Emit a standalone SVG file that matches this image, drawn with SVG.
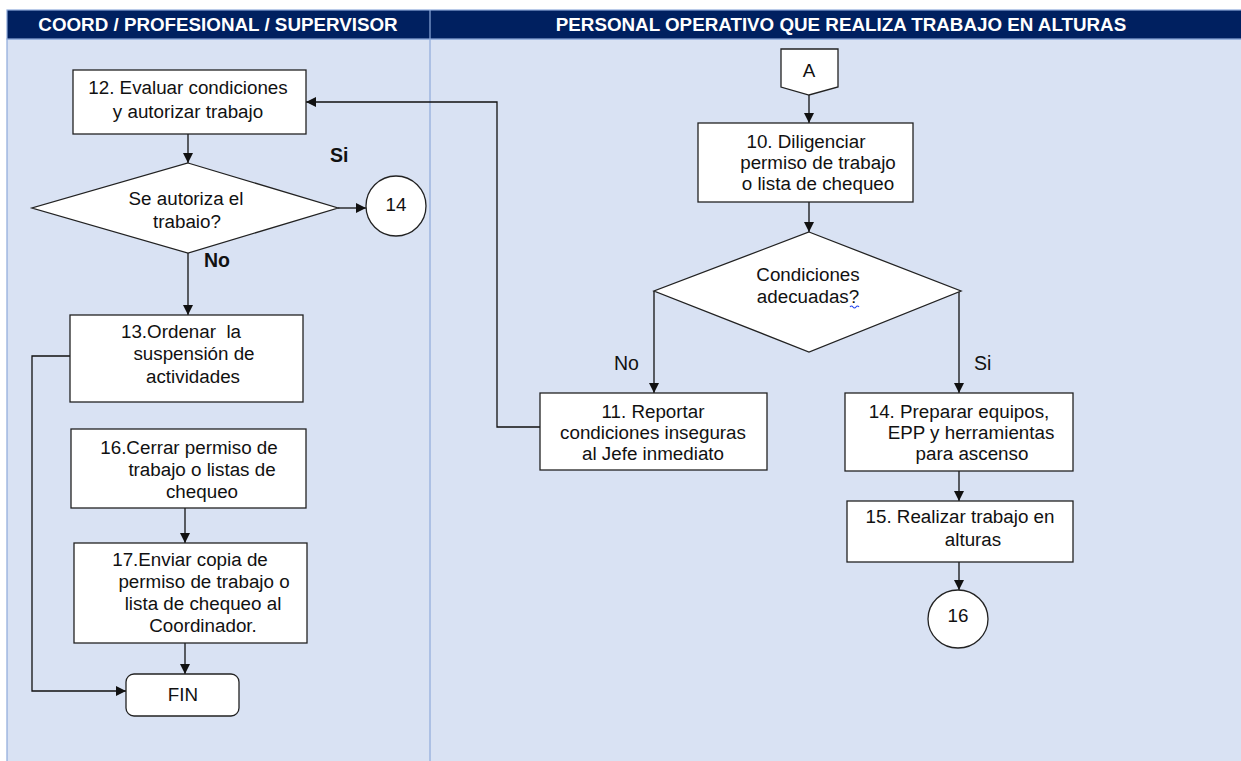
<svg xmlns="http://www.w3.org/2000/svg" width="1241" height="761" viewBox="0 0 1241 761">
  <defs>
    <marker id="arrow" viewBox="0 0 10 10" refX="10" refY="5" markerWidth="10" markerHeight="10" markerUnits="userSpaceOnUse" orient="auto">
      <path d="M0,0 L10,5 L0,10 z" fill="#111"/>
    </marker>
    <style>
      .lane { fill: #D9E2F3; stroke: #8EAADB; stroke-width: 1.2; }
      .head { fill: #002060; stroke: #8EAADB; stroke-width: 1.2; }
      .htxt { font-family: "Liberation Sans", Arial, sans-serif; font-size: 18.8px; font-weight: bold; fill: #fff; text-anchor: middle; }
      .box { fill: #fff; stroke: #222; stroke-width: 1.3; }
      .txt { font-family: "Liberation Sans", Arial, sans-serif; font-size: 18.8px; fill: #111; text-anchor: middle; }
      .lbl { font-family: "Liberation Sans", Arial, sans-serif; font-size: 19.5px; fill: #111; }
      .bold { font-weight: bold; }
      .conn { fill: none; stroke: #111; stroke-width: 1.3; }
    </style>
  </defs>

  <!-- swimlanes -->
  <g id="lanes">
    <rect class="lane" x="7" y="39" width="1240" height="730"/>
    <line x1="430" y1="39" x2="430" y2="761" stroke="#8EAADB" stroke-width="1.2"/>
    <rect class="head" x="7" y="10" width="1240" height="29"/>
    <line x1="430" y1="10" x2="430" y2="39" stroke="#8EAADB" stroke-width="1.2"/>
    <text class="htxt" x="218" y="31">COORD / PROFESIONAL / SUPERVISOR</text>
    <text class="htxt" x="841" y="31">PERSONAL OPERATIVO QUE REALIZA TRABAJO EN ALTURAS</text>
  </g>

  <!-- connectors -->
  <g id="connectors">
    <path class="conn" d="M809,95 L809,123" marker-end="url(#arrow)"/>
    <path class="conn" d="M809,202 L809,232" marker-end="url(#arrow)"/>
    <path class="conn" d="M654,291 L654,393" marker-end="url(#arrow)"/>
    <path class="conn" d="M959,291 L959,393" marker-end="url(#arrow)"/>
    <path class="conn" d="M959,471 L959,501" marker-end="url(#arrow)"/>
    <path class="conn" d="M959,562 L959,590" marker-end="url(#arrow)"/>
    <path class="conn" d="M540,427 L497,427 L497,102 L306,102" marker-end="url(#arrow)"/>
    <path class="conn" d="M188,134 L188,163" marker-end="url(#arrow)"/>
    <path class="conn" d="M338,208 L366,208" marker-end="url(#arrow)"/>
    <path class="conn" d="M188,253 L188,315" marker-end="url(#arrow)"/>
    <path class="conn" d="M185,508 L185,543" marker-end="url(#arrow)"/>
    <path class="conn" d="M185,643 L185,674" marker-end="url(#arrow)"/>
    <path class="conn" d="M70,356 L32,356 L32,691 L126,691" marker-end="url(#arrow)"/>
    <text class="lbl bold" x="330" y="162">Si</text>
    <text class="lbl bold" x="204" y="267">No</text>
    <text class="lbl" x="614" y="370">No</text>
    <text class="lbl" x="974" y="370">Si</text>
  </g>

  <!-- off-page connector A -->
  <g id="conA">
    <path class="box" d="M781,49 L838,49 L838,87 L809,95 L781,87 Z"/>
    <text class="txt" x="809" y="77">A</text>
  </g>

  <g id="n10">
    <rect class="box" x="698" y="123" width="215" height="79"/>
    <text class="txt" x="806" y="148">10. Diligenciar</text>
    <text class="txt" x="818" y="169">permiso de trabajo</text>
    <text class="txt" x="818" y="190">o lista de chequeo</text>
  </g>

  <g id="d_condiciones">
    <path class="box" d="M809,232 L961,291 L809,352 L654,291 Z"/>
    <text class="txt" x="808" y="281">Condiciones</text>
    <text class="txt" x="808" y="303">adecuadas?</text>
    <path d="M850,307 q1.5,-2 3,0 t3,0 t3,0" fill="none" stroke="#2244EE" stroke-width="1.1"/>
  </g>

  <g id="n11">
    <rect class="box" x="540" y="393" width="227" height="77"/>
    <text class="txt" x="653" y="418">11. Reportar</text>
    <text class="txt" x="653" y="439">condiciones inseguras</text>
    <text class="txt" x="653" y="460">al Jefe inmediato</text>
  </g>

  <g id="n14">
    <rect class="box" x="845" y="393" width="228" height="78"/>
    <text class="txt" x="959" y="418">14. Preparar equipos,</text>
    <text class="txt" x="971" y="439">EPP y herramientas</text>
    <text class="txt" x="972" y="460">para ascenso</text>
  </g>

  <g id="n15">
    <rect class="box" x="847" y="501" width="226" height="61"/>
    <text class="txt" x="960" y="523">15. Realizar trabajo en</text>
    <text class="txt" x="973" y="546">alturas</text>
  </g>

  <g id="c16">
    <ellipse class="box" cx="958" cy="619" rx="30" ry="29"/>
    <text class="txt" x="958" y="622">16</text>
  </g>

  <g id="n12">
    <rect class="box" x="73" y="70" width="233" height="64"/>
    <text class="txt" x="188" y="94">12. Evaluar condiciones</text>
    <text class="txt" x="188" y="118">y autorizar trabajo</text>
  </g>

  <g id="d_autoriza">
    <path class="box" d="M188,163 L338,208 L188,253 L32,208 Z"/>
    <text class="txt" x="186" y="205">Se autoriza el</text>
    <text class="txt" x="187" y="228">trabaio?</text>
  </g>

  <g id="c14">
    <circle class="box" cx="396" cy="206" r="30"/>
    <text class="txt" x="396" y="211">14</text>
  </g>

  <g id="n13">
    <rect class="box" x="70" y="315" width="233" height="87"/>
    <text class="txt" x="181" y="338" xml:space="preserve">13.Ordenar  la</text>
    <text class="txt" x="194" y="360">suspensión de</text>
    <text class="txt" x="193" y="383">actividades</text>
  </g>

  <g id="n16">
    <rect class="box" x="71" y="429" width="235" height="79"/>
    <text class="txt" x="189" y="454">16.Cerrar permiso de</text>
    <text class="txt" x="202" y="476">trabajo o listas de</text>
    <text class="txt" x="202" y="498">chequeo</text>
  </g>

  <g id="n17">
    <rect class="box" x="74" y="543" width="233" height="100"/>
    <text class="txt" x="190" y="566">17.Enviar copia de</text>
    <text class="txt" x="204" y="588">permiso de trabajo o</text>
    <text class="txt" x="203" y="610">lista de chequeo al</text>
    <text class="txt" x="203" y="632">Coordinador.</text>
  </g>

  <g id="fin">
    <rect class="box" x="126" y="674" width="113" height="42" rx="8" ry="8"/>
    <text class="txt" x="183" y="701">FIN</text>
  </g>
</svg>
